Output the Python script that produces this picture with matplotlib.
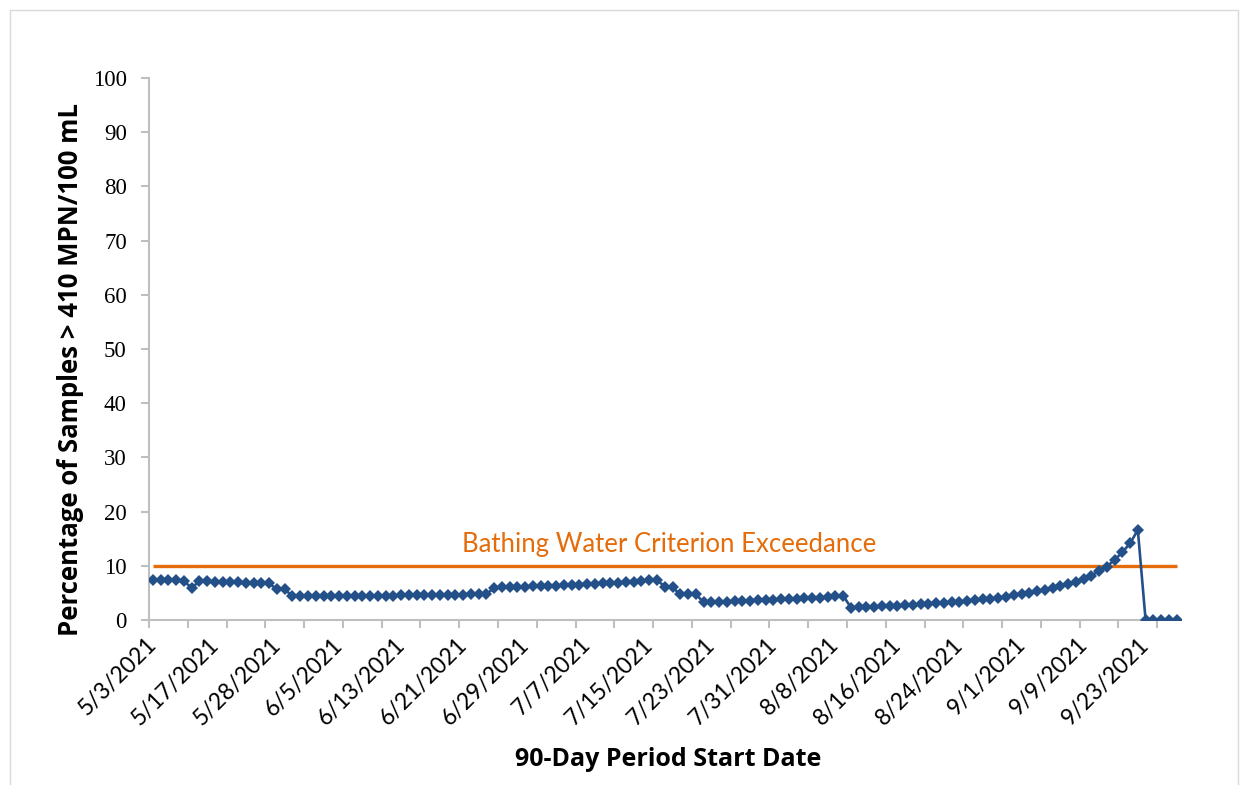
import matplotlib
matplotlib.use("Agg")
import matplotlib.pyplot as plt
from matplotlib.patches import Rectangle
from matplotlib.transforms import ScaledTranslation

# ---- data ----
pct_exceeding = [
    7.4, 7.4, 7.4, 7.4, 7.2, 5.9, 7.2, 7.2, 6.95, 6.95,
    6.95, 6.95, 6.75, 6.75, 6.75, 6.75, 5.65, 5.65, 4.4, 4.4,
    4.4, 4.4, 4.4, 4.4, 4.4, 4.4, 4.45, 4.45, 4.45, 4.45,
    4.45, 4.45, 4.55, 4.55, 4.55, 4.55, 4.55, 4.65, 4.65, 4.65,
    4.65, 4.75, 4.75, 4.75, 5.95, 6.0, 6.05, 6.1, 6.15, 6.2,
    6.25, 6.3, 6.35, 6.4, 6.45, 6.5, 6.6, 6.65, 6.75, 6.8,
    6.9, 7.0, 7.1, 7.2, 7.3, 7.4, 6.15, 6.0, 4.75, 4.75,
    4.75, 3.3, 3.3, 3.35, 3.4, 3.45, 3.5, 3.55, 3.6, 3.65,
    3.7, 3.8, 3.85, 3.9, 4.0, 4.05, 4.15, 4.25, 4.35, 4.5,
    2.3, 2.35, 2.4, 2.45, 2.5, 2.6, 2.65, 2.75, 2.8, 2.9,
    3.0, 3.1, 3.2, 3.3, 3.4, 3.5, 3.65, 3.8, 3.95, 4.1,
    4.3, 4.55, 4.8, 5.05, 5.35, 5.55, 5.85, 6.25, 6.65, 7.05,
    7.55, 8.2, 9.05, 9.85, 11.1, 12.5, 14.15, 16.6, 0.0, 0.0,
    0.0, 0.0, 0.0,
]
criterion = 10
criterion_label = "Bathing Water Criterion Exceedance"
tick_labels = ["5/3/2021", "5/17/2021", "5/28/2021", "6/5/2021", "6/13/2021",
               "6/21/2021", "6/29/2021", "7/7/2021", "7/15/2021", "7/23/2021",
               "7/31/2021", "8/8/2021", "8/16/2021", "8/24/2021", "9/1/2021",
               "9/9/2021", "9/23/2021"]
label_every = 8
tickmark_every = 5
y_ticks = list(range(0, 101, 10))

W, H = 1248, 785
fig = plt.figure(figsize=(W / 100, H / 100), dpi=100)

# chart-area border
fig.patches.append(Rectangle((10 / W, -0.01), (1238 - 10) / W, (H - 10) / H + 0.01,
                             transform=fig.transFigure, fill=False,
                             edgecolor="#D9D9D9", linewidth=1.0))

ax = fig.add_axes([149 / W, (H - 620) / H, (1180.5 - 149) / W, (620 - 78) / H])

n = len(pct_exceeding)
x = list(range(n))
blue = "#245089"
orange = "#E46C0A"
gray = "#BFBFBF"

ax.plot(x, [criterion] * n, color=orange, linewidth=2.4, solid_capstyle="butt", zorder=2)
ax.plot(x, pct_exceeding, color=blue, linewidth=1.9, marker="D", markersize=6.2,
        markeredgewidth=0, zorder=3)

ax.text((n - 1) / 2 + 0.5, 14.0, criterion_label, color=orange, ha="center", va="center",
        fontsize=18.5, family="Lato")

ax.set_xlim(-0.5, n - 0.5)
ax.set_ylim(0, 100)

# y axis
ax.set_yticks(y_ticks)
ax.set_yticklabels([str(v) for v in y_ticks], family="Liberation Serif", fontsize=16.5)
ax.tick_params(axis="y", length=6, width=1.5, color=gray, direction="out", pad=10)

# x axis: tick marks every 5 categories (boundaries), labels every 8
ax.set_xticks([i - 0.5 for i in range(0, n + 1, tickmark_every)])
ax.set_xticklabels([])
ax.tick_params(axis="x", which="major", length=6, width=1.5, color=gray, direction="out")
ax.set_xticks(list(range(0, n, label_every))[:len(tick_labels)], minor=True)
ax.set_xticklabels(tick_labels, minor=True, rotation=45, ha="right", va="top",
                   rotation_mode="anchor", family="Lato", fontsize=16.5)
ax.tick_params(axis="x", which="minor", length=0, pad=10)
shift = ScaledTranslation(-0.07, 0, fig.dpi_scale_trans)
for lbl in ax.get_xticklabels(minor=True):
    lbl.set_transform(lbl.get_transform() + shift)

for s in ["top", "right"]:
    ax.spines[s].set_visible(False)
for s in ["left", "bottom"]:
    ax.spines[s].set_color(gray)
    ax.spines[s].set_linewidth(1.5)

fig.text(71 / W, 1 - 370 / H, "Percentage of Samples > 410 MPN/100 mL", rotation=90,
         ha="center", va="center", fontsize=18.5, fontweight="bold", family="Open Sans")
fig.text(668 / W, 1 - 760 / H, "90-Day Period Start Date", ha="center", va="center",
         fontsize=18, fontweight="bold", family="Open Sans")

fig.savefig("out.png", dpi=100)
